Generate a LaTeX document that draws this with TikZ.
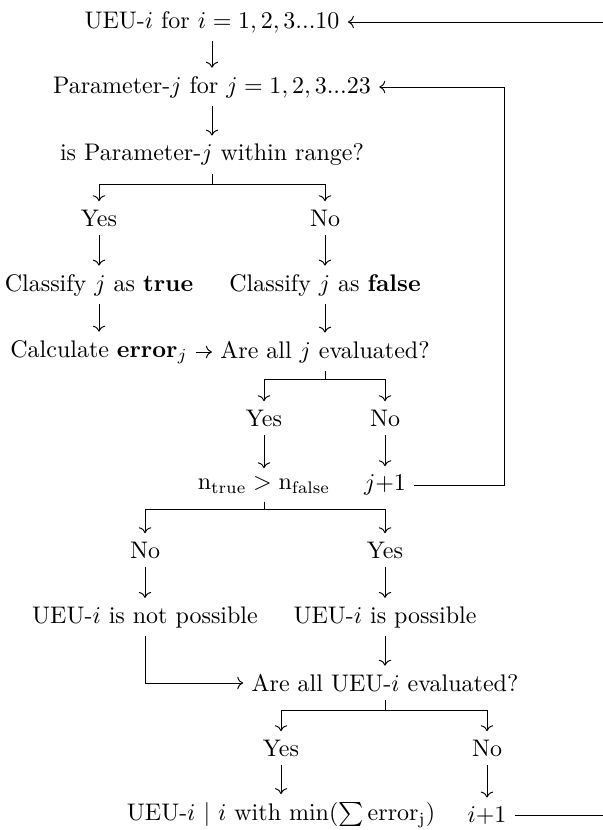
\documentclass[tikz,border=0pt]{standalone}
\usepackage{amsmath,amssymb}
\usepackage{tikz}
\usetikzlibrary{arrows.meta,positioning,calc}
\tikzset{
  stepnode/.style={inner sep=3.33pt},
  flow/.style={-{To}},
}

\begin{document}
\begin{tikzpicture}[x=0.4167pt,y=-0.4167pt]
  \useasboundingbox (0,0) rectangle (603,830);
  % outer loop over i, inner loop over j
  \node[stepnode] (ueu) at (212,22) {UEU-$i$ for $i=1,2,3...10$};
  \node[stepnode] (param) at (212,87) {Parameter-$j$ for $j=1,2,3...23$};
  \node[stepnode] (range) at (212,155) {is Parameter-$j$ within range?};
  \node[stepnode] (yesA) at (99,218) {Yes};
  \node[stepnode] (noA) at (325,218) {No};
  \node[stepnode] (clTrue) at (99,285) {Classify $j$ as \textbf{true}};
  \node[stepnode] (clFalse) at (325,285) {Classify $j$ as \textbf{false}};
  \node[stepnode] (calcErr) at (99,352) {Calculate $\mathbf{error}_j$};
  \node[stepnode] (allJ) at (325,352) {Are all $j$ evaluated?};
  \node[stepnode] (yesB) at (264,418) {Yes};
  \node[stepnode] (noB) at (385,418) {No};
  \node[stepnode] (ncomp) at (264,485) {$\mathrm{n_{true}} > \mathrm{n_{false}}$};
  \node[stepnode] (jnext) at (385,485) {$j$+1};
  \node[stepnode] (noC) at (145,550) {No};
  \node[stepnode] (yesC) at (385,550) {Yes};
  \node[stepnode] (notPoss) at (145,617) {UEU-$i$ is not possible};
  \node[stepnode] (poss) at (385,617) {UEU-$i$ is possible};
  \node[stepnode] (allUEU) at (385,683) {Are all UEU-$i$ evaluated?};
  \node[stepnode] (yesD) at (281,748) {Yes};
  \node[stepnode] (noD) at (487,748) {No};
  \node[stepnode] (best) at (281,815) {UEU-$i$ $|$ $i$ with $\min(\sum\mathrm{error_j})$};
  \node[stepnode] (inext) at (487,815) {$i$+1};
  \coordinate (jturn) at (504,87);
  \coordinate (iturn) at (640,22);

  \draw[flow] (ueu) -- (param);
  \draw[flow] (param) -- (range);
  \draw[flow] (range.south) -- ++(0,10) -| (yesA);
  \draw[flow] (range.south) -- ++(0,10) -| (noA);
  \draw[flow] (yesA) -- (clTrue);
  \draw[flow] (noA) -- (clFalse);
  \draw[flow] (clTrue) -- (clTrue |- calcErr.north);
  \draw[flow] (clFalse) -- (allJ);
  \draw[flow] (calcErr) -- (allJ);
  \draw[flow] (allJ.south) -- ++(0,8) -| (yesB);
  \draw[flow] (allJ.south) -- ++(0,8) -| (noB);
  \draw[flow] (yesB) -- (ncomp);
  \draw[flow] (noB) -- (jnext);
  \draw[flow] (jnext) -| (jturn) -- (param);
  \draw[flow] (ncomp.south) -- ++(0,8) -| (noC);
  \draw[flow] (ncomp.south) -- ++(0,8) -| (yesC);
  \draw[flow] (noC) -- (notPoss);
  \draw[flow] (yesC) -- (poss);
  \draw[flow] (poss) -- (allUEU);
  \draw[flow] (notPoss) |- (allUEU);
  \draw[flow] (allUEU.south) -- ++(0,10) -| (yesD);
  \draw[flow] (allUEU.south) -- ++(0,10) -| (noD);
  \draw[flow] (yesD) -- (best);
  \draw[flow] (noD) -- (inext);
  \draw[flow] (inext) -| (iturn) -- (ueu);
\end{tikzpicture}
\end{document}
